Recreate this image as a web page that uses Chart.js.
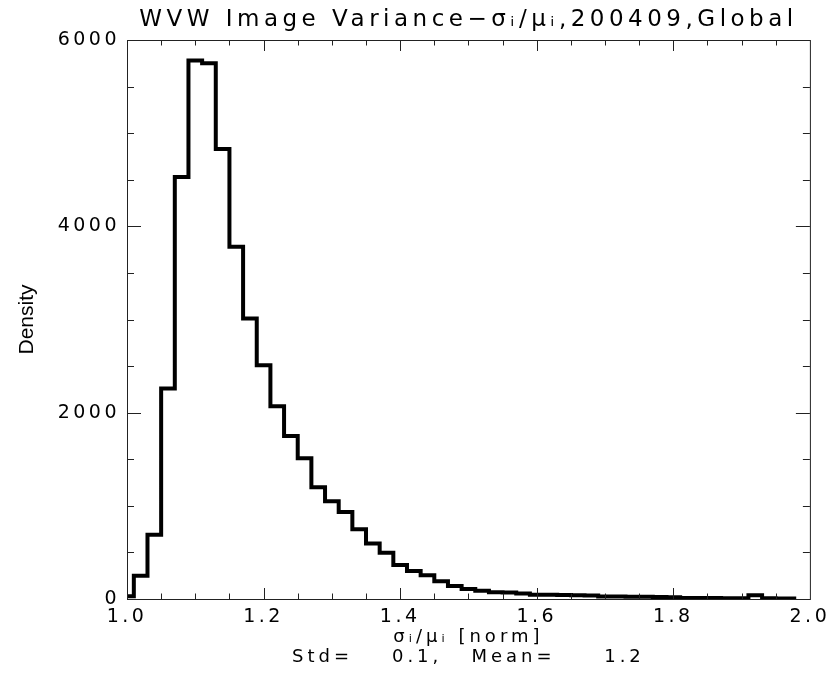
<!DOCTYPE html>
<html lang="en">
<head>
  <meta charset="UTF-8">
  <title>WVW Image Variance</title>
  <style>
    body { margin: 0; background: #fff; }
    #histChart { display: block; }
  </style>
  <script src="https://cdn.jsdelivr.net/npm/chart.js"></script>
</head>
<body>
<canvas id="histChart" width="832" height="673"></canvas>
<script>
// bin centers (sigma/mu) and density per bin
const binCenters = [
  1.00, 1.02, 1.04, 1.06, 1.08, 1.10, 1.12, 1.14, 1.16, 1.18,
  1.20, 1.22, 1.24, 1.26, 1.28, 1.30, 1.32, 1.34, 1.36, 1.38,
  1.40, 1.42, 1.44, 1.46, 1.48, 1.50, 1.52, 1.54, 1.56, 1.58,
  1.60, 1.62, 1.64, 1.66, 1.68, 1.70, 1.72, 1.74, 1.76, 1.78,
  1.80, 1.82, 1.84, 1.86, 1.88, 1.90, 1.92, 1.94, 1.96, 1.98
];
const density = [
  30, 250, 690, 2260, 4530, 5780, 5750, 4830, 3780, 3010,
  2510, 2070, 1750, 1510, 1200, 1050, 935, 750, 595, 496,
  364, 300, 255, 190, 140, 107, 89, 72, 70, 60,
  46, 45, 42, 40, 38, 28, 27, 25, 24, 22,
  20, 12, 10, 10, 9, 8, 40, 9, 6, 5
];

const titleText = 'WVW Image Variance\u2212\u03c3\u1d62/\u03bc\u1d62,200409,Global';
const xTitle = ['\u03c3\u1d62/\u03bc\u1d62 [norm]', 'Std=    0.1,   Mean=     1.2'];
const yTitle = 'Density';

const xRange = [1.0, 2.0];
const xMajor = 0.2, xMinor = 0.05;
const yRange = [0, 6000];
const yMajor = 2000, yMinor = 500;

const FONT = "'DejaVu Sans', sans-serif";

// wide letter spacing, like the IDL vector font
function spaced(obj, method, spacing) {
  if (!obj || obj['_sp_' + method]) return;
  const orig = obj[method];
  obj[method] = function (...args) {
    const c = this.ctx;
    c.save();
    c.letterSpacing = spacing;
    orig.apply(this, args);
    c.restore();
  };
  obj['_sp_' + method] = true;
}

const spacingPlugin = {
  id: 'spacing',
  beforeDraw(chart) {
    spaced(chart.titleBlock, 'draw', '4.5px');
    spaced(chart.scales.x, 'drawLabels', '3.5px');
    spaced(chart.scales.y, 'drawLabels', '3.5px');
    spaced(chart.scales.x, 'drawTitle', '4px');
  }
};

// IDL style frame: box with inward ticks on all four sides
const framePlugin = {
  id: 'frame',
  afterDraw(chart) {
    const { ctx, chartArea: a, scales: { x, y } } = chart;
    ctx.save();
    ctx.strokeStyle = '#222';
    ctx.lineWidth = 1;
    ctx.strokeRect(a.left + 0.5, a.top + 0.5, a.right - a.left, a.bottom - a.top);
    ctx.beginPath();
    const nx = Math.round((xRange[1] - xRange[0]) / xMinor);
    for (let i = 1; i < nx; i++) {
      const px = Math.round(x.getPixelForValue(xRange[0] + i * xMinor)) + 0.5;
      const len = i % 4 === 0 ? 11 : 5.5;
      ctx.moveTo(px, a.bottom); ctx.lineTo(px, a.bottom - len);
      ctx.moveTo(px, a.top); ctx.lineTo(px, a.top + len);
    }
    const ny = Math.round((yRange[1] - yRange[0]) / yMinor);
    for (let i = 1; i < ny; i++) {
      const py = Math.round(y.getPixelForValue(yRange[0] + i * yMinor)) + 0.5;
      const len = i % 4 === 0 ? 14 : 7;
      ctx.moveTo(a.left, py); ctx.lineTo(a.left + len, py);
      ctx.moveTo(a.right, py); ctx.lineTo(a.right - len, py);
    }
    ctx.stroke();
    ctx.restore();
  }
};

const ctx = document.getElementById('histChart').getContext('2d');
new Chart(ctx, {
  type: 'line',
  data: {
    datasets: [{
      data: binCenters.map((v, i) => ({ x: v, y: density[i] })),
      stepped: 'middle',
      borderColor: '#000',
      borderWidth: 4,
      borderJoinStyle: 'miter',
      pointRadius: 0,
      fill: false
    }]
  },
  options: {
    responsive: false,
    animation: false,
    devicePixelRatio: 1,
    layout: { padding: { left: 0, right: 20, top: 0, bottom: 0 } },
    plugins: {
      legend: { display: false },
      tooltip: { enabled: false },
      title: {
        display: true,
        text: titleText,
        fullSize: false,
        color: '#000',
        font: { family: FONT, size: 23, weight: 'normal', lineHeight: 1.2 },
        padding: { top: 6, bottom: 6.4 }
      }
    },
    scales: {
      x: {
        type: 'linear',
        min: xRange[0],
        max: xRange[1],
        grid: { display: false, drawTicks: false },
        border: { display: false },
        ticks: {
          stepSize: xMajor,
          color: '#000',
          padding: 7,
          maxRotation: 0,
          font: { family: FONT, size: 19 },
          callback: v => v.toFixed(1)
        },
        title: {
          display: true,
          text: xTitle,
          color: '#000',
          font: { family: FONT, size: 18, lineHeight: 1.1 },
          padding: { top: 0, bottom: 6 }
        },
        afterFit: s => { s.height = 74; }
      },
      y: {
        min: yRange[0],
        max: yRange[1],
        grid: { display: false, drawTicks: false },
        border: { display: false },
        ticks: {
          stepSize: yMajor,
          color: '#000',
          padding: 7,
          font: { family: FONT, size: 19 },
          callback: v => String(v)
        },
        title: {
          display: true,
          text: yTitle,
          color: '#000',
          font: { family: "'Liberation Sans Narrow', 'Liberation Sans', sans-serif", size: 21, lineHeight: 1.2 },
          padding: { top: 15, bottom: 0 }
        },
        afterFit: s => { s.width = 127; }
      }
    }
  },
  plugins: [spacingPlugin, framePlugin]
});
</script>
</body>
</html>
